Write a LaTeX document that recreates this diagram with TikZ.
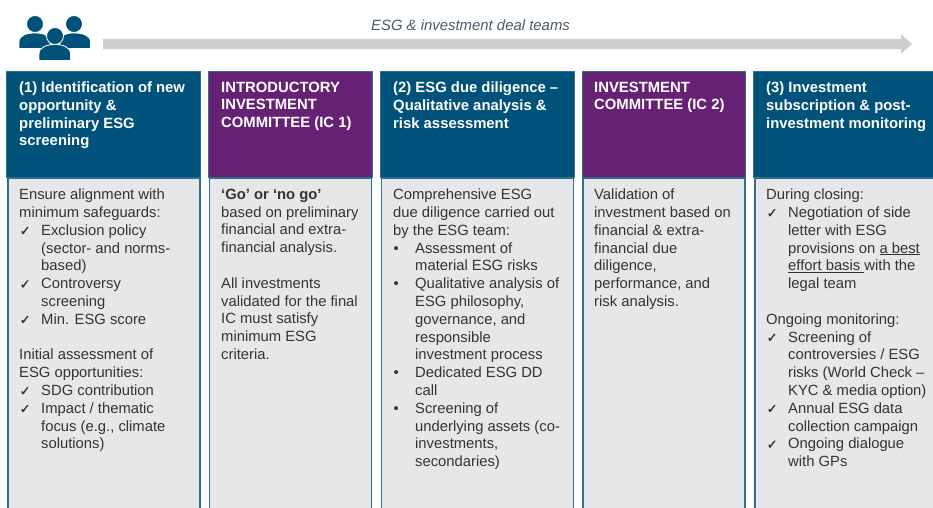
\documentclass[tikz,border=0pt]{standalone}
\usepackage{fontspec}
\setmainfont{Liberation Sans}
\newfontfamily\dejavu[FakeBold=1.2]{DejaVu Sans}
\definecolor{dealblue}{HTML}{00527A}
\definecolor{dealpurple}{HTML}{662174}
\definecolor{bodygrey}{HTML}{E6E7E8}
\definecolor{edgeblue}{HTML}{2F6F8F}
\definecolor{arrowgrey}{HTML}{CBCFD2}
\definecolor{bodyink}{HTML}{333333}
\definecolor{labelink}{HTML}{4A5A6E}
\newcommand{\tick}{\makebox[22pt][l]{\hspace{0.5pt}{\dejavu\fontsize{13}{13}\selectfont ✓}}}
\newcommand{\bull}{\makebox[22pt][l]{\hspace{0.5pt}•}}
\newcommand{\ind}{\hspace*{22pt}}
\tikzset{
  x=1pt,y=-1pt,
  headbox/.style={draw=edgeblue,line width=1pt,minimum height=106pt,anchor=north west,inner sep=0pt},
  bodybox/.style={fill=bodygrey,draw=edgeblue,line width=1.5pt,anchor=north west,inner sep=0pt},
  headtext/.style={anchor=north west,inner sep=0pt,align=left,text=white,font=\fontsize{14.85}{17.8}\selectfont\bfseries},
  bodytext/.style={anchor=north west,inner sep=0pt,align=left,text=bodyink,font=\fontsize{14.8}{17.8}\selectfont},
  person/.style={fill=dealblue,draw=white,line width=0.8pt}
}
\begin{document}
\begin{tikzpicture}
\useasboundingbox (0,0) rectangle (933,507);
% icon
\fill[person] (35,24) circle (8.5);
\fill[person] (74,24) circle (8.5);
\fill[person] (19,48.5) -- (19,42) .. controls (19,35) and (27,33) .. (35,33) .. controls (43,33) and (50,35) .. (50,42) -- (50,48.5) -- cycle;
\fill[person] (90.5,48.5) -- (90.5,42) .. controls (90.5,35) and (82,33) .. (74,33) .. controls (66,33) and (60,35) .. (60,42) -- (60,48.5) -- cycle;
\fill[person] (39,60.5) -- (39,54) .. controls (39,47) and (47,44.5) .. (55,44.5) .. controls (63,44.5) and (70.5,47) .. (70.5,54) -- (70.5,60.5) -- cycle;
\fill[person] (55,36) circle (8.5);
% arrow
\fill[arrowgrey] (103,39) -- (901,39) -- (901,34) -- (912,44) -- (901,54) -- (901,49) -- (103,49) -- cycle;
\node[anchor=center,inner sep=0pt,text=labelink,font=\fontsize{14.9}{17}\selectfont\itshape] (teams) at (470.5,25) {ESG \& investment deal teams};
% bodies
\node[bodybox,minimum width=192pt,minimum height=332pt] (b1) at (7,177) {};
\node[bodybox,minimum width=162pt,minimum height=332pt] (b2) at (208.5,177) {};
\node[bodybox,minimum width=192pt,minimum height=332pt] (b3) at (380.5,177) {};
\node[bodybox,minimum width=162pt,minimum height=332pt] (b4) at (582,177) {};
\node[bodybox,minimum width=190pt,minimum height=332pt] (b5) at (754,177) {};
% heads
\node[headbox,fill=dealblue,minimum width=193.5pt] (h1) at (6,71) {};
\node[headbox,fill=dealpurple,minimum width=163.5pt] (h2) at (208,71) {};
\node[headbox,fill=dealblue,minimum width=193.5pt] (h3) at (380,71) {};
\node[headbox,fill=dealpurple,minimum width=163pt] (h4) at (582,71) {};
\node[headbox,fill=dealblue,minimum width=190pt] (h5) at (753,71) {};
% head texts
\node[headtext] (t1) at (19,81.5) {(1) Identification of new\\opportunity \&\\preliminary ESG\\screening};
\node[headtext] (t2) at (221,81.5) {INTRODUCTORY\\INVESTMENT\\COMMITTEE (IC 1)};
\node[headtext] (t3) at (393,81.5) {(2) ESG due diligence –\\Qualitative analysis \&\\risk assessment};
\node[headtext] (t4) at (594,81.5) {INVESTMENT\\COMMITTEE (IC 2)};
\node[headtext] (t5) at (766,81.5) {(3) Investment\\subscription \& post-\\investment monitoring};
% body texts
\node[bodytext] (c1) at (19,188.7) {Ensure alignment with\\minimum safeguards:\\
\tick Exclusion policy\\\ind (sector- and norms-\\\ind based)\\
\tick Controversy\\\ind screening\\
\tick Min. ESG score\\[17.8pt]
Initial assessment of\\ESG opportunities:\\
\tick SDG contribution\\
\tick Impact / thematic\\\ind focus (e.g., climate\\\ind solutions)};
\node[bodytext] (c2) at (221,188.7) {\textbf{‘Go’ or ‘no go’}\\based on preliminary\\financial and extra-\\financial analysis.\\[17.8pt]
All investments\\validated for the final\\IC must satisfy\\minimum ESG\\criteria.};
\node[bodytext] (c3) at (393,188.7) {Comprehensive ESG\\due diligence carried out\\by the ESG team:\\
\bull Assessment of\\\ind material ESG risks\\
\bull Qualitative analysis of\\\ind ESG philosophy,\\\ind governance, and\\\ind responsible\\\ind investment process\\
\bull Dedicated ESG DD\\\ind call\\
\bull Screening of\\\ind underlying assets (co-\\\ind investments,\\\ind secondaries)};
\node[bodytext] (c4) at (594,188.7) {Validation of\\investment based on\\financial \& extra-\\financial due\\diligence,\\performance, and\\risk analysis.};
\node[bodytext] (c5) at (766,188.7) {During closing:\\
\tick Negotiation of side\\\ind letter with ESG\\\ind provisions on \underline{a best}\\\ind \underline{effort basis\ }with the\\\ind legal team\\[17.8pt]
Ongoing monitoring:\\
\tick Screening of\\\ind controversies / ESG\\\ind risks (World Check –\\\ind KYC \& media option)\\
\tick Annual ESG data\\\ind collection campaign\\
\tick Ongoing dialogue\\\ind with GPs};
\end{tikzpicture}
\end{document}
